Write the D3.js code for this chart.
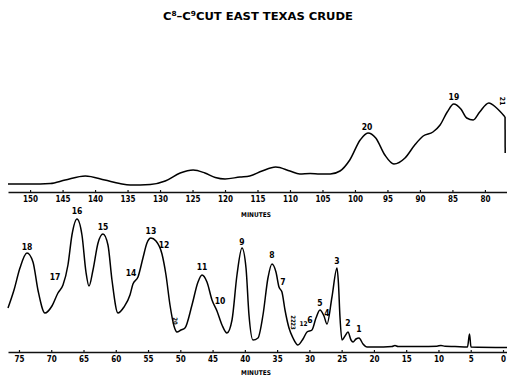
<!DOCTYPE html>
<html>
<head>
<meta charset="utf-8">
<script src="https://cdn.jsdelivr.net/npm/d3@7"></script>
<style>
  html, body { margin: 0; padding: 0; background: #fff; }
  svg { display: block; }
  .lbl { font-family: "DejaVu Sans Condensed", "DejaVu Sans", sans-serif; font-stretch: condensed; font-weight: bold; fill: #000; }
</style>
</head>
<body>
<svg id="chart" width="507" height="376"></svg>
<script>
// Gas chromatogram of the C8–C9 cut, drawn in two strips (retention time runs right to left).

// Upper strip: late-eluting region (minutes, detector response)
const upperTimes = [153.4, 150.0, 146.9, 144.6, 141.5, 138.5, 136.2, 134.6, 131.5, 129.2, 126.9, 124.9, 123.1, 121.5, 120.0, 117.7, 116.2, 114.3, 112.2, 110.0, 108.5, 106.9, 105.4, 103.8, 102.3, 100.8, 99.2, 98.0, 96.8, 95.4, 94.0, 92.3, 90.8, 89.5, 88.0, 86.9, 85.8, 84.8, 83.7, 82.8, 81.8, 80.8, 79.4, 78.2, 76.9];
const upperSignal = [8, 8, 8.5, 12, 16, 12, 8.5, 7, 7.5, 11, 19, 22, 19, 14.5, 13, 15, 16, 21, 25, 21, 18, 18.5, 18, 18, 21, 32, 52, 59, 54, 37, 28, 34, 47, 56, 60, 67, 80, 88, 83, 74, 72, 80, 89, 84, 75];
// Pen return at the end of the upper strip
const upperResetTimes = [76.9, 76.88];
const upperResetSignal = [75, 39];

// Lower strip: early-eluting region
const lowerTimes = [76.70, 75.77, 74.85, 73.76, 72.83, 72.06, 70.97, 69.89, 68.96, 68.18, 67.41, 66.79, 66.01, 65.24, 64.62, 64.15, 63.53, 62.75, 61.98, 61.21, 60.59, 59.66, 58.73, 57.80, 57.34, 56.56, 55.79, 55.17, 54.55, 53.77, 52.84, 52.22, 51.60, 50.98, 50.52, 49.90, 49.28, 48.19, 47.26, 46.64, 45.87, 45.09, 44.32, 43.54, 42.77, 41.99, 41.22, 40.44, 39.82, 39.36, 38.74, 37.97, 37.19, 36.42, 35.80, 35.18, 34.71, 34.25, 33.78, 33.16, 32.54, 31.77, 30.99, 30.37, 29.60, 28.98, 28.36, 27.74, 27.27, 26.50, 25.72, 25.50, 25.26, 24.95, 24.48, 24.02, 23.55, 23.24, 22.78, 22.31, 21.69, 21.07, 19.83, 17.20, 16.74, 16.27, 12.86, 10.23, 9.61, 8.99, 7.44, 5.50, 5.19, 4.96, -0.62];
const lowerSignal = [44, 62, 84, 99, 90, 62, 39, 46, 59, 67, 87, 117, 133, 117, 80, 66, 82, 109, 118, 107, 72, 39, 45, 57, 68, 75, 94, 109, 114, 111, 98, 77, 47, 26, 20, 22, 24, 47, 70, 77, 70, 52, 41, 27, 19, 32, 77, 104, 84, 37, 12, 14, 37, 74, 88, 80, 65, 60, 42, 24, 14, 7, 13, 20, 22, 34, 42, 36, 28, 55, 84, 69, 35, 12, 16, 20, 12, 10, 13, 14, 8, 5, 5, 5.5, 6.5, 5.5, 5.5, 5.8, 6.5, 5.8, 5.5, 5, 18, 5, 4.5];

// Axis ticks
const upperTicks = [150, 145, 140, 135, 130, 125, 120, 115, 110, 105, 100, 95, 90, 85, 80];
const lowerTicks = [75, 70, 65, 60, 55, 50, 45, 40, 35, 30, 25, 20, 15, 10, 5, 0];

// Peak numbers: time, response at the label, text
const upperPeakTimes = [98.15, 84.77];
const upperPeakSignal = [65, 95];
const upperPeakText = ["20", "19"];
const lowerPeakTimes = [73.76, 69.42, 66.01, 61.98, 57.64, 54.55, 52.53, 46.64, 43.85, 40.44, 35.80, 34.09, 29.91, 28.36, 27.27, 25.72, 24.02, 22.31];
const lowerPeakSignal = [105, 75, 141, 125, 79, 121, 107, 85, 51, 110, 97, 70, 32, 49, 39, 91, 29, 23];
const lowerPeakText = ["18", "17", "16", "15", "14", "13", "12", "11", "10", "9", "8", "7", "6", "5", "4", "3", "2", "1"];
// Small vertical labels on crowded peaks
const upperSideTimes = [77.2];
const upperSideSignal = [91];
const upperSideText = ["21"];
const lowerSideTimes = [50.67, 32.4, 32.4];
const lowerSideSignal = [31, 33, 26];
const lowerSideText = ["20", "22", "23"];
const lowerSmallTimes = [30.9];
const lowerSmallSignal = [29];
const lowerSmallText = ["12"];

const svg = d3.select("#chart");

// Scales
const xUpper = d3.scaleLinear().domain([153.4, 76.6]).range([8, 507]);
const xLower = d3.scaleLinear().domain([76.7, -0.62]).range([8, 507]);
const yUpper = d3.scaleLinear().domain([0, 100]).range([192, 92]);
const yLower = d3.scaleLinear().domain([0, 100]).range([352, 252]);

// Title
const title = svg.append("text").attr("class", "lbl")
  .attr("x", 258).attr("y", 20).attr("text-anchor", "middle")
  .attr("font-size", 11).attr("textLength", 190).attr("lengthAdjust", "spacingAndGlyphs");
title.append("tspan").text("C");
title.append("tspan").attr("font-size", 7).attr("dy", -4).text("8");
title.append("tspan").attr("dy", 4).text("–C");
title.append("tspan").attr("font-size", 7).attr("dy", -4).text("9");
title.append("tspan").attr("dy", 4).text("CUT  EAST  TEXAS  CRUDE");

function drawAxis(x, yPos, ticks) {
  const g = svg.append("g").attr("transform", `translate(0,${yPos})`)
    .call(d3.axisBottom(x).tickValues(ticks).tickSize(-2).tickSizeOuter(0).tickFormat(d3.format("d")));
  g.select(".domain").attr("stroke", "#111").attr("stroke-width", 1.3);
  g.selectAll(".tick line").attr("stroke", "#111").attr("stroke-width", 1.2);
  g.selectAll(".tick text")
    .attr("class", "lbl").attr("font-size", 8).attr("y", 4).attr("dy", "0.71em")
    .attr("font-family", null);
  return g;
}

drawAxis(xUpper, 192, upperTicks);
drawAxis(xLower, 352, lowerTicks);

svg.append("text").attr("class", "lbl").attr("x", 256).attr("y", 217)
  .attr("text-anchor", "middle").attr("font-size", 6.5).text("MINUTES");
svg.append("text").attr("class", "lbl").attr("x", 256).attr("y", 375)
  .attr("text-anchor", "middle").attr("font-size", 6.5).text("MINUTES");

// Traces
function trace(x, y, times, values, curve) {
  const line = d3.line().x(d => x(d[0])).y(d => y(d[1])).curve(curve);
  svg.append("path").datum(d3.zip(times, values)).attr("d", line)
    .attr("fill", "none").attr("stroke", "#000").attr("stroke-width", 1.5)
    .attr("stroke-linejoin", "round");
}
trace(xUpper, yUpper, upperTimes, upperSignal, d3.curveMonotoneX);
trace(xUpper, yUpper, upperResetTimes, upperResetSignal, d3.curveLinear);
trace(xLower, yLower, lowerTimes, lowerSignal, d3.curveMonotoneX);

// Peak numbers
function peakLabels(x, y, times, values, texts, size) {
  svg.append("g").selectAll("text").data(d3.zip(times, values, texts)).join("text")
    .attr("class", "lbl").attr("font-size", size).attr("text-anchor", "middle")
    .attr("x", d => x(d[0])).attr("y", d => y(d[1]) + 3).text(d => d[2]);
}
peakLabels(xUpper, yUpper, upperPeakTimes, upperPeakSignal, upperPeakText, 8.5);
peakLabels(xLower, yLower, lowerPeakTimes, lowerPeakSignal, lowerPeakText, 8.5);
peakLabels(xLower, yLower, lowerSmallTimes, lowerSmallSignal, lowerSmallText, 6.5);

// Rotated numbers; glyphs extend to the right of the anchor after the quarter turn
function sideLabels(x, y, times, values, texts, size) {
  svg.append("g").selectAll("text").data(d3.zip(times, values, texts)).join("text")
    .attr("class", "lbl").attr("font-size", size).attr("text-anchor", "middle")
    .attr("transform", d => `translate(${x(d[0]) - 3},${y(d[1])}) rotate(90)`)
    .text(d => d[2]);
}
sideLabels(xUpper, yUpper, upperSideTimes, upperSideSignal, upperSideText, 7);
sideLabels(xLower, yLower, lowerSideTimes, lowerSideSignal, lowerSideText, 6);
</script>
</body>
</html>
